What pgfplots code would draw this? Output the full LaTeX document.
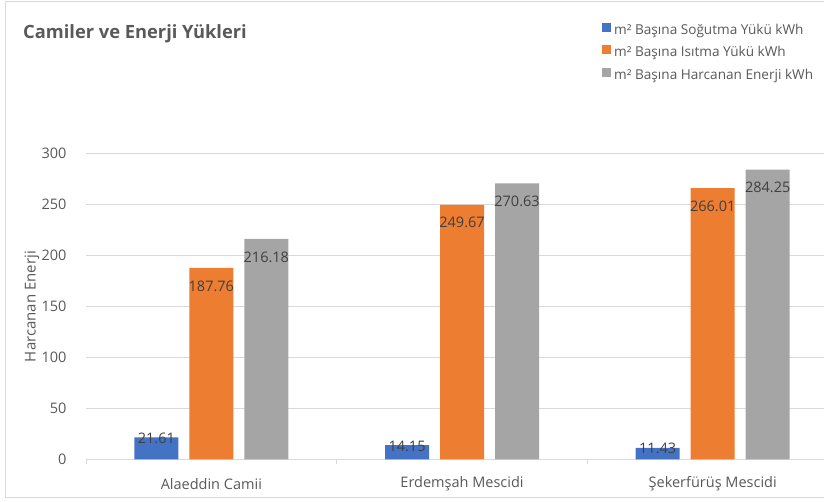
\documentclass[border=0pt]{standalone}
\usepackage{fontspec}
\setmainfont{Open Sans}
\usepackage{pgfplots}
\pgfplotsset{compat=1.18}
\definecolor{cblue}{HTML}{4472C4}
\definecolor{corange}{HTML}{ED7D31}
\definecolor{cgray}{HTML}{A5A5A5}
\definecolor{gridc}{HTML}{D9D9D9}
\definecolor{txt}{HTML}{595959}
\definecolor{lbl}{HTML}{404040}
\begin{document}
\begin{tikzpicture}
\path[use as bounding box] (0pt,0pt) rectangle (824pt,502pt);
\draw[gridc, line width=1pt] (5.5pt,4pt) rectangle (840pt,500pt);
\node[anchor=west, text=txt, font=\fontsize{18.3}{22}\selectfont\bfseries, inner sep=0pt] at (23pt,468pt) {Camiler ve Enerji Yükleri};
\begin{axis}[
  at={(86pt,42.5pt)}, anchor=south west,
  scale only axis, width=738pt, height=306pt,
  ybar=11pt, bar width=44pt,
  xmin=-0.5, xmax=2.444, ymin=0, ymax=300,
  enlargelimits=false,
  axis x line*=bottom, axis y line*=left,
  y axis line style={draw=none},
  x axis line style={draw=gridc, line width=1pt, -},
  xtick={0,1,2},
  xticklabels={Alaeddin Camii, Erdemşah Mescidi, Şekerfürüş Mescidi},
  minor xtick={-0.5,0.5,1.5},
  major x tick style={draw=none},
  minor x tick style={draw=gridc, line width=1pt},
  minor tick length=5pt, tick align=outside,
  ytick={0,50,...,300},
  ytick style={draw=none},
  ymajorgrids, major grid style={gridc, line width=1pt},
  /pgf/number format/assume math mode=true,
  tick label style={text=txt, font=\fontsize{14.5}{17}\selectfont},
  xticklabel style={anchor=center, yshift=-20pt},
  yticklabel style={anchor=east, inner sep=0pt, xshift=-15pt},
  ylabel={Harcanan Enerji},
  every axis y label/.style={at={([xshift=-54pt]rel axis cs:0,0.5)}, rotate=90, anchor=center, text=txt, font=\fontsize{15}{18}\selectfont},
  legend style={at={(rel axis cs:0.6992,1.427)}, draw=none, fill=none, inner sep=0pt, anchor=north west,
    font=\fontsize{13.6}{16}\selectfont, text=txt, row sep=6.8pt,
    nodes={inner sep=0pt, text height=11pt, text depth=4pt},
    /tikz/every odd column/.append style={column sep=3pt}},
  legend cell align=left,
  legend image code/.code={\fill[#1] (0pt,-1pt) rectangle (9pt,8pt);},
  point meta=explicit symbolic,
  nodes near coords,
  every node near coord/.append style={text=lbl, font=\fontsize{14.5}{17}\selectfont, anchor=center},
]
\addplot[fill=cblue, draw=none, every node near coord/.append style={yshift=-1pt}] coordinates {(0,21.61) [21.61] (1,14.15) [14.15] (2,11.43) [11.43]};
\addplot[fill=corange, draw=none, every node near coord/.append style={yshift=-18pt}] coordinates {(0,187.76) [187.76] (1,249.67) [249.67] (2,266.01) [266.01]};
\addplot[fill=cgray, draw=none, every node near coord/.append style={yshift=-18pt}] coordinates {(0,216.18) [216.18] (1,270.63) [270.63] (2,284.25) [284.25]};
\legend{m² Başına Soğutma Yükü kWh, m² Başına Isıtma Yükü kWh, m² Başına Harcanan Enerji kWh}
\end{axis}
\end{tikzpicture}
\end{document}
